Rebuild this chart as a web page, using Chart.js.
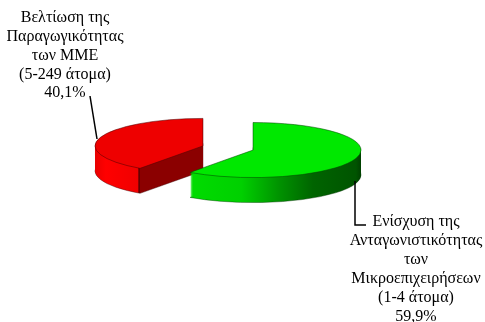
<!DOCTYPE html>
<html><head><meta charset="utf-8">
<style>html,body{margin:0;padding:0;background:#fff}canvas{display:block}</style>
<script src="https://cdn.jsdelivr.net/npm/chart.js@4"></script>
</head><body><canvas id="c" width="485" height="322"></canvas>
<script>
const categories = ["Ενίσχυση της Ανταγωνιστικότητας των Μικροεπιχειρήσεων (1-4 άτομα)", "Βελτίωση της Παραγωγικότητας των ΜΜΕ (5-249 άτομα)"];
const values = [59.9, 40.1];
const topColors = ["#00e800", "#ee0000"];
const labelLines = [
  ["Ενίσχυση της","Ανταγωνιστικότητας","των","Μικροεπιχειρήσεων","(1-4 άτομα)","59,9%"],
  ["Βελτίωση της","Παραγωγικότητας","των ΜΜΕ","(5-249 άτομα)","40,1%"]
];
const labelPos = [{x:416,y:222,step:19},{x:65,y:18,step:18.8}];
const leaders = [[[355,181],[355,225],[366,225]],[[90,96],[97,139]]];
const CX=228, CY=148, K=0.255, EXPLODE=26.3, DEPTH=25;

const pie3d = {
  id:'pie3d',
  beforeDatasetsDraw(chart){
    const ctx = chart.ctx, arcs = chart.getDatasetMeta(0).data;
    [1,0].forEach(i=>{
      const arc = arcs[i], opts = arc.options;
      const mid = (arc.startAngle+arc.endAngle)/2;
      const ex = Math.cos(mid)*EXPLODE, ey = Math.sin(mid)*EXPLODE;
      const place = dy=>{
        ctx.translate(CX,CY+dy); ctx.scale(1,K); ctx.translate(ex,ey); ctx.translate(-arc.x,-arc.y);
      };
      const ux = sx => sx-CX-ex+arc.x;
      let g;
      if(i===0){
        g = ctx.createLinearGradient(ux(190),0,ux(361),0);
        g.addColorStop(0,"#00dc00");g.addColorStop(0.3,"#00d000");g.addColorStop(0.53,"#009000");
        g.addColorStop(0.72,"#006400");g.addColorStop(0.97,"#005400");g.addColorStop(1,"#004000");
      } else { // the cut face to the right of the rim corner stays dark
        g = ctx.createLinearGradient(ux(95),0,ux(203),0);
        g.addColorStop(0,"#e80000");g.addColorStop(0.1,"#ff0000");g.addColorStop(0.4,"#f00000");
        g.addColorStop(0.405,"#400000");g.addColorStop(0.42,"#8b0000");g.addColorStop(1,"#8b0000");
      }
      const plain = (fill,bw,bc)=>({backgroundColor:fill,borderWidth:bw||0,borderColor:bc||'transparent',spacing:0,offset:0,circular:true,borderRadius:0,borderAlign:'center',borderJoinStyle:'round'});
      for(let d=DEPTH;d>=1;d--){
        ctx.save(); place(d);
        arc.options = d===DEPTH ? plain(g,0.9,i===0?'rgba(0,50,0,.75)':'rgba(60,0,0,.75)') : plain(g);
        arc.draw(ctx);
        ctx.restore();
      }
      ctx.save(); place(0);
      arc.options = plain(topColors[i],1,i===0?'rgba(0,70,0,.85)':'rgba(80,0,0,.85)');
      arc.draw(ctx);
      ctx.restore();
      arc.options = opts;
    });
    return false;
  },
  afterDraw(chart){
    const ctx = chart.ctx;
    ctx.save();
    ctx.strokeStyle="#000"; ctx.lineWidth=1.5;
    leaders.forEach(l=>{ctx.beginPath();l.forEach((p,j)=>j?ctx.lineTo(p[0],p[1]):ctx.moveTo(p[0],p[1]));ctx.stroke();});
    ctx.fillStyle="#000"; ctx.font="16px 'Liberation Serif'"; ctx.textAlign="center"; ctx.textBaseline="middle";
    labelLines.forEach((ls,i)=>ls.forEach((t,j)=>ctx.fillText(t,labelPos[i].x,labelPos[i].y+j*labelPos[i].step)));
    ctx.restore();
  }
};

new Chart(document.getElementById('c'),{
  type:'pie',
  data:{labels:categories,datasets:[{data:values,backgroundColor:topColors,borderWidth:0}]},
  options:{responsive:false,animation:false,radius:108,rotation:0,
    layout:{padding:0},
    plugins:{legend:{display:false},tooltip:{enabled:false}}},
  plugins:[pie3d]
});
</script></body></html>
